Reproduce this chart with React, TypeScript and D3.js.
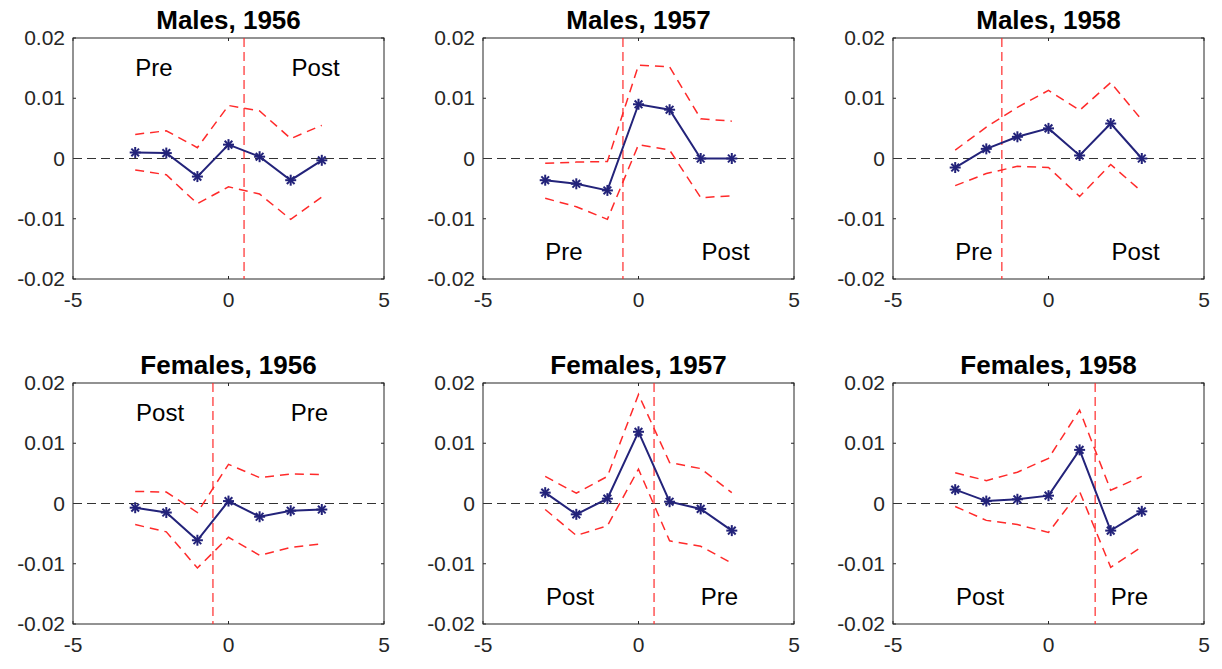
import React from 'react';
import * as d3 from 'd3';

const xs = [-3, -2, -1, 0, 1, 2, 3];
const titles = ['Males, 1956', 'Males, 1957', 'Males, 1958', 'Females, 1956', 'Females, 1957', 'Females, 1958'];
const means = [
  [0.001, 0.0009, -0.003, 0.0023, 0.0003, -0.0036, -0.0003],
  [-0.0036, -0.0042, -0.0053, 0.009, 0.0081, 0, 0],
  [-0.0015, 0.0016, 0.0036, 0.005, 0.0005, 0.0058, 0],
  [-0.0007, -0.0015, -0.0061, 0.0004, -0.0022, -0.0012, -0.001],
  [0.0018, -0.0018, 0.0008, 0.0119, 0.0003, -0.0009, -0.0045],
  [0.0023, 0.0004, 0.0007, 0.0013, 0.0089, -0.0045, -0.0013],
];
const uppers = [
  [0.004, 0.0046, 0.0018, 0.0088, 0.0079, 0.0033, 0.0055],
  [-0.0008, -0.0006, -0.0005, 0.0155, 0.0152, 0.0066, 0.0062],
  [0.0014, 0.0052, 0.0085, 0.0113, 0.008, 0.0126, 0.0064],
  [0.002, 0.0019, -0.0015, 0.0065, 0.0043, 0.0049, 0.0048],
  [0.0045, 0.0017, 0.0045, 0.0181, 0.0068, 0.0058, 0.0018],
  [0.0051, 0.0038, 0.0052, 0.0075, 0.0155, 0.0022, 0.0045],
];
const lowers = [
  [-0.0019, -0.0027, -0.0075, -0.0047, -0.0059, -0.0101, -0.0064],
  [-0.0066, -0.008, -0.0101, 0.0023, 0.0014, -0.0065, -0.0062],
  [-0.0045, -0.0025, -0.0013, -0.0015, -0.0063, -0.001, -0.0055],
  [-0.0035, -0.0047, -0.0107, -0.0056, -0.0086, -0.0073, -0.0067],
  [-0.001, -0.0053, -0.0037, 0.0057, -0.0062, -0.0071, -0.0099],
  [-0.0005, -0.0028, -0.0035, -0.0048, 0.002, -0.0106, -0.0072],
];
const cutoffs = [0.5, -0.5, -1.5, -0.5, 0.5, 1.5];
// [label, x, y] pairs for each panel
const labels = [
  [['Pre', -2.4, 0.015], ['Post', 2.8, 0.015]],
  [['Pre', -2.4, -0.0155], ['Post', 2.8, -0.0155]],
  [['Pre', -2.4, -0.0155], ['Post', 2.8, -0.0155]],
  [['Post', -2.2, 0.015], ['Pre', 2.6, 0.015]],
  [['Post', -2.2, -0.0155], ['Pre', 2.6, -0.0155]],
  [['Post', -2.2, -0.0155], ['Pre', 2.6, -0.0155]],
];
const xTicks = [-5, 0, 5];
const yTicks = [-0.02, -0.01, 0, 0.01, 0.02];

const W = 311, H = 241;
const lefts = [73, 483, 893];
const tops = [38, 383];
const font = 'Liberation Sans, Arial, sans-serif';
const navy = '#23237a';
const red = '#ff2a2a';

const Panel = ({ i }: { i: number }) => {
  const x = d3.scaleLinear().domain([-5, 5]).range([0, W]);
  const y = d3.scaleLinear().domain([-0.02, 0.02]).range([H, 0]);
  const line = d3.line<number>().x((_, k) => x(xs[k])).y(d => y(d));
  const tx = lefts[i % 3], ty = tops[Math.floor(i / 3)];
  return (
    <g transform={`translate(${tx},${ty})`}>
      <rect width={W} height={H} fill="white" stroke="#262626" strokeWidth={1} />
      {xTicks.map(t => (
        <g key={'x' + t}>
          <line x1={x(t)} x2={x(t)} y1={H} y2={H - 3} stroke="#262626" />
          <line x1={x(t)} x2={x(t)} y1={0} y2={3} stroke="#262626" />
          <text x={x(t)} y={H + 28} textAnchor="middle" fontSize={21} fontFamily={font} fill="#262626">{t}</text>
        </g>
      ))}
      {yTicks.map(t => (
        <g key={'y' + t}>
          <line x1={0} x2={3} y1={y(t)} y2={y(t)} stroke="#262626" />
          <line x1={W} x2={W - 3} y1={y(t)} y2={y(t)} stroke="#262626" />
          <text x={-8} y={y(t) + 7} textAnchor="end" fontSize={21} fontFamily={font} fill="#262626">{t === 0 ? '0' : t.toString()}</text>
        </g>
      ))}
      <line x1={0} x2={W} y1={y(0)} y2={y(0)} stroke="#333" strokeWidth={1.2} strokeDasharray="9,5" />
      <path d={line(uppers[i]) || ''} fill="none" stroke={red} strokeWidth={1.5} strokeDasharray="9,6" />
      <path d={line(lowers[i]) || ''} fill="none" stroke={red} strokeWidth={1.5} strokeDasharray="9,6" />
      <line x1={x(cutoffs[i])} x2={x(cutoffs[i])} y1={0} y2={H} stroke={red} strokeWidth={1.2} strokeDasharray="9,5" />
      <path d={line(means[i]) || ''} fill="none" stroke={navy} strokeWidth={2} />
      {means[i].map((v, k) => {
        const cx = x(xs[k]), cy = y(v), r = 5.5;
        return (
          <g key={k} stroke={navy} strokeWidth={2}>
            <line x1={cx - r} x2={cx + r} y1={cy} y2={cy} />
            <line x1={cx} x2={cx} y1={cy - r} y2={cy + r} />
            <line x1={cx - r * 0.7} x2={cx + r * 0.7} y1={cy - r * 0.7} y2={cy + r * 0.7} />
            <line x1={cx - r * 0.7} x2={cx + r * 0.7} y1={cy + r * 0.7} y2={cy - r * 0.7} />
          </g>
        );
      })}
      {labels[i].map(([s, lx, ly]) => (
        <text key={s as string} x={x(lx as number)} y={y(ly as number) + 8} textAnchor="middle" fontSize={24} fontFamily={font} fill="#000">{s}</text>
      ))}
      <text x={W / 2} y={-9} textAnchor="middle" fontSize={26} fontWeight="bold" fontFamily={font} fill="#000">{titles[i]}</text>
    </g>
  );
};

export default function App() {
  return (
    <svg width={1222} height={669} style={{ position: 'absolute', left: 0, top: 0, background: 'white' }}>
      <rect width={1222} height={669} fill="white" />
      {titles.map((_, i) => <Panel key={i} i={i} />)}
    </svg>
  );
}
